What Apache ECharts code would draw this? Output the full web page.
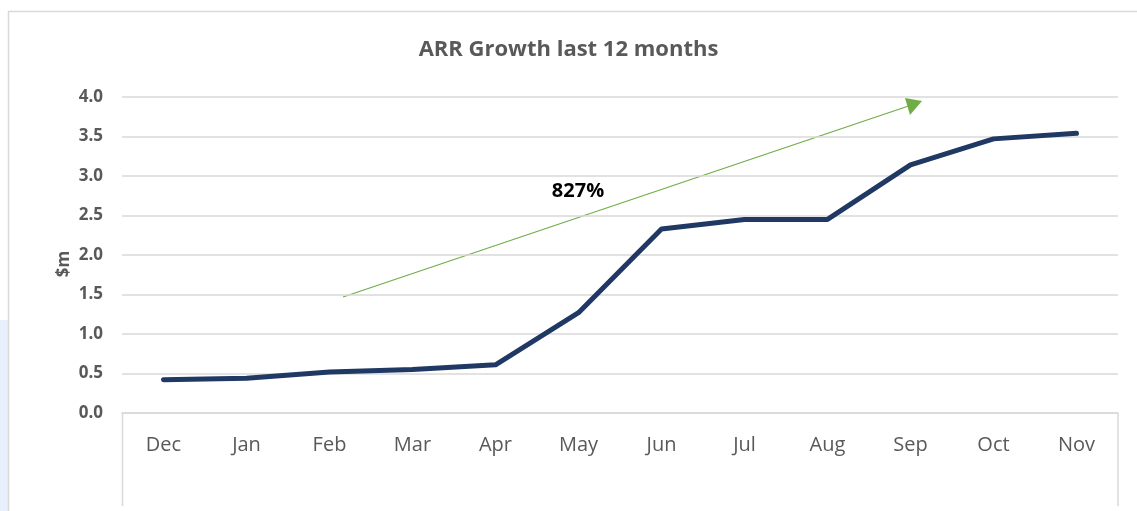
<!DOCTYPE html>
<html>
<head>
<meta charset="utf-8">
<script src="https://cdn.jsdelivr.net/npm/echarts@6/dist/echarts.min.js"></script>
<style>
  html, body { margin: 0; padding: 0; background: #fff; }
  #chart { width: 1137px; height: 511px; }
</style>
</head>
<body>
<div id="chart"></div>
<script>
// chart data
const months = ["Dec", "Jan", "Feb", "Mar", "Apr", "May", "Jun", "Jul", "Aug", "Sep", "Oct", "Nov"];
const arr = [0.42, 0.44, 0.52, 0.55, 0.61, 1.27, 2.33, 2.45, 2.45, 3.14, 3.47, 3.54];
const yTicks = [0, 0.5, 1, 1.5, 2, 2.5, 3, 3.5, 4];
const growthLabel = "827%";

const chart = echarts.init(document.getElementById("chart"));

const grey = "#595959";
const gridColor = "#d9d9d9";
const font = "'Open Sans', 'Noto Sans', sans-serif";

chart.setOption({
  animation: false,
  title: {
    text: "ARR Growth last 12 months",
    left: "center",
    top: 34,
    textStyle: { color: grey, fontSize: 22, fontWeight: "bold", fontFamily: font }
  },
  grid: { left: 122, right: 19, top: 97, bottom: 98, containLabel: false },
  xAxis: {
    type: "category",
    data: months,
    boundaryGap: true,
    axisLine: { show: true, lineStyle: { color: gridColor, width: 1.5 } },
    axisTick: { show: false },
    axisLabel: { color: grey, fontSize: 20, fontFamily: font, margin: 22 }
  },
  yAxis: {
    type: "value",
    min: yTicks[0],
    max: yTicks[yTicks.length - 1],
    interval: 0.5,
    axisLine: { show: false },
    axisTick: { show: false },
    axisLabel: {
      color: grey, fontSize: 17, fontWeight: "bold", fontFamily: font, margin: 19,
      formatter: (v) => v.toFixed(1)
    },
    splitLine: { lineStyle: { color: gridColor, width: 1.5 } }
  },
  series: [{
    type: "line",
    data: arr,
    symbol: "none",
    lineStyle: { color: "#203864", width: 5, cap: "round", join: "round" }
  }],
  graphic: [
    // outer chart border and left decoration
    { type: "rect", shape: { x: 0, y: 320, width: 8, height: 191 }, style: { fill: "#e8f0fb" }, silent: true },
    { type: "polyline", shape: { points: [[8.5, 520], [8.5, 11.5], [1140, 11.5]] }, style: { stroke: gridColor, lineWidth: 1.5, fill: null }, silent: true },
    // category axis box below the plot
    { type: "line", shape: { x1: 122.5, y1: 413, x2: 122.5, y2: 506 }, style: { stroke: gridColor, lineWidth: 1.5 }, silent: true },
    { type: "line", shape: { x1: 1118, y1: 413, x2: 1118, y2: 506 }, style: { stroke: gridColor, lineWidth: 1.5 }, silent: true },
    // y axis title
    {
      type: "text", x: 64, y: 264, rotation: Math.PI / 2,
      style: { text: "$m", fill: grey, font: "bold 17px " + font, align: "center", verticalAlign: "middle" }
    },
    // growth arrow annotation
    { type: "line", shape: { x1: 343, y1: 297, x2: 910, y2: 105.5 }, style: { stroke: "#70ad47", lineWidth: 1.2 }, silent: true },
    { type: "polygon", shape: { points: [[922, 101], [905, 98], [910, 115]] }, style: { fill: "#70ad47" }, silent: true },
    {
      type: "text", x: 578, y: 191,
      style: { text: growthLabel, fill: "#000", font: "bold 20px " + font, align: "center", verticalAlign: "middle" }
    }
  ]
});
</script>
</body>
</html>
